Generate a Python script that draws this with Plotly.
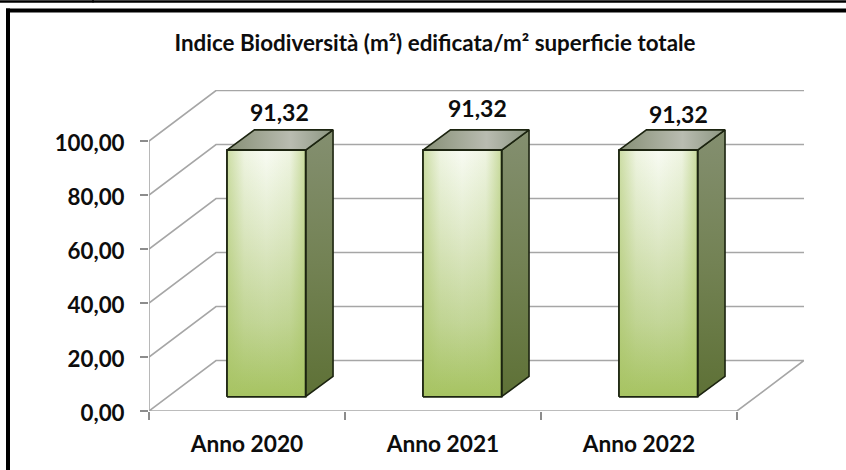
import plotly.graph_objects as go

# Data
categories = ["Anno 2020", "Anno 2021", "Anno 2022"]
values = [91.32, 91.32, 91.32]
value_labels = ["91,32", "91,32", "91,32"]
y_ticks = [0, 20, 40, 60, 80, 100]
y_tick_labels = ["0,00", "20,00", "40,00", "60,00", "80,00", "100,00"]
title_text = "Indice Biodiversità (m²) edificata/m² superficie totale"

# Oblique projection, in axis units
WALL_DX, WALL_DY = 0.342, 18.7
BAR_X0, BAR_W = 0.398, 0.401
BAR_DX, BAR_DY, BAR_BASE = 0.14, 7.5, 5.3
LABEL_X = [0.665, 1.675, 2.70]
LABEL_Y = [6.6, 8.0, 5.7]
FONT = "Lato"
GRID = "#a6a6a6"
TICK = "#8c8c8c"
EDGE = "#1c2410"
INK = "#0d0d0d"

fig = go.Figure()
n = len(categories)


def grid(xs, ys, width=1.6):
    fig.add_trace(go.Scatter(x=xs, y=ys, mode="lines", hoverinfo="skip",
                             line=dict(color=GRID, width=width)))


def face(xs, ys, kind, scale, line=True):
    fig.add_trace(go.Scatter(
        x=xs + xs[:1], y=ys + ys[:1], mode="lines", fill="toself", hoverinfo="skip",
        fillgradient=dict(type=kind, colorscale=scale),
        line=dict(color=EDGE if line else "rgba(0,0,0,0)", width=1.6 if line else 0),
    ))


# Walls and floor
grid([0, 0], [0, y_ticks[-1]])
for t in y_ticks[1:]:
    grid([0, WALL_DX, n + WALL_DX], [t, t + WALL_DY, t + WALL_DY])
grid([0, WALL_DX, n + WALL_DX, n, 0], [0, WALL_DY, WALL_DY, 0, 0])

# Bars
front_v = [[0, "#a6c361"], [0.3, "#c3d698"], [0.65, "#dfe9c8"], [1, "#f8fbf3"]]
front_h = [[0, "rgba(168,196,100,0.55)"], [0.22, "rgba(168,196,100,0.12)"],
           [0.5, "rgba(168,196,100,0)"], [0.8, "rgba(168,196,100,0.12)"],
           [1, "rgba(168,196,100,0.6)"]]
side_v = [[0, "#5e7136"], [0.5, "#738254"], [1, "#848f70"]]
top_h = [[0, "#868f75"], [0.6, "#b9bcb1"], [1, "#8b9580"]]
for i, v in enumerate(values):
    x0, x1 = i + BAR_X0, i + BAR_X0 + BAR_W
    y0, y1 = BAR_BASE, BAR_BASE + v
    face([x1, x1 + BAR_DX, x1 + BAR_DX, x1], [y0, y0 + BAR_DY, y1 + BAR_DY, y1], "vertical", side_v)
    face([x0, x1, x1 + BAR_DX, x0 + BAR_DX], [y1, y1, y1 + BAR_DY, y1 + BAR_DY], "horizontal", top_h)
    face([x0, x1, x1, x0], [y0, y0, y1, y1], "vertical", front_v)
    face([x0, x1, x1, x0], [y0, y0, y1, y1], "horizontal", front_h)
    fig.add_annotation(x=LABEL_X[i], y=y1 + BAR_DY + LABEL_Y[i], xref="x", yref="y",
                       text="<b>%s</b>" % value_labels[i],
                       showarrow=False, font=dict(family=FONT, size=23, color=INK),
                       xanchor="center", yanchor="middle")

fig.update_layout(
    width=846, height=470, showlegend=False, paper_bgcolor="white", plot_bgcolor="white",
    margin=dict(l=149, r=42, t=90, b=59.3, autoexpand=False),
    title=dict(text="<b>" + title_text + "</b>", x=435 / 846, xanchor="center", y=1 - 43 / 470, yanchor="middle",
               font=dict(family=FONT, size=22.4, color=INK)),
    font=dict(family=FONT),
    xaxis=dict(range=[0, n + WALL_DX], tickvals=[i + 0.5 for i in range(n)],
               ticktext=["<b>%s</b>" % c for c in categories],
               ticks="", showgrid=False, zeroline=False, showline=False, ticklabelstandoff=17,
               tickfont=dict(family=FONT, size=22.7, color=INK),
               minor=dict(tickvals=list(range(n + 1)), ticks="outside", ticklen=8, tickcolor=TICK, tickwidth=1.6,
                          showgrid=False)),
    yaxis=dict(range=[0, (410.7 - 90.3) / 2.695], tickvals=y_ticks, ticktext=["<b>%s</b>" % s for s in y_tick_labels],
               ticks="outside", ticklen=8, tickcolor=TICK, tickwidth=1.6, showgrid=False, zeroline=False, showline=False,
               ticklabelstandoff=11, ticklabelshift=2,
               tickfont=dict(family=FONT, size=22.3, color=INK)),
)
# Page frame, in pixels of the figure
px = lambda x: (x - 149) / 655
py = lambda y: (410.7 - y) / 320.4
for (xa, ya, xb, yb, w) in [(0, 2, 846, 2, 2.5), (93, 0, 93, 3, 1.5), (6, 11, 846, 11, 4), (8, 9, 8, 470, 4)]:
    fig.add_shape(type="line", xref="paper", yref="paper", x0=px(xa), y0=py(ya), x1=px(xb), y1=py(yb),
                  line=dict(color="black", width=w))

fig.write_html("out.html", config={"displayModeBar": False}, post_script="document.body.style.margin='0';")
